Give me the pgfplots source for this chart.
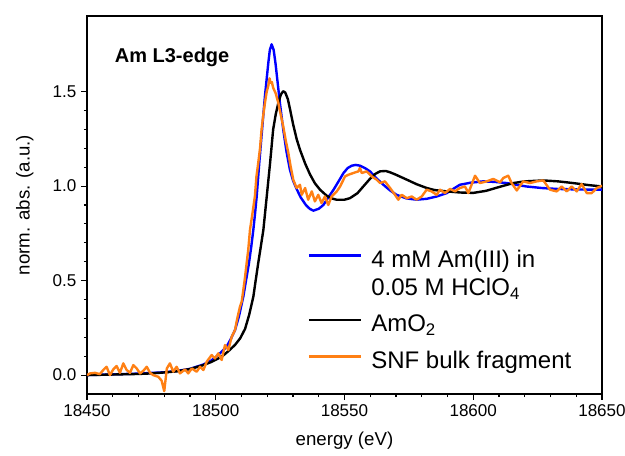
\documentclass[border=0pt]{standalone}
\usepackage{pgfplots}
\pgfplotsset{compat=1.18}
\usepackage{fontspec}
\setmainfont{Liberation Sans}
\definecolor{amblue}{RGB}{0,0,255}
\definecolor{snforange}{RGB}{255,128,20}
% legend rows of fixed size; shift text and line of a row together
\newcommand{\legtext}[2]{\raisebox{#1}[19pt][6.25pt]{\hspace{5pt}#2}}
\pgfplotsset{
  legline/.style={legend image code/.code={\draw[##1] (0pt,#1) -- (39pt,#1);}},
}
\begin{document}
\begin{tikzpicture}
\begin{axis}[
  scale only axis,
  width=386.25pt, height=283.5pt,
  xmin=18450, xmax=18650, ymin=-0.1, ymax=1.9,
  xtick={18450,18500,18550,18600,18650},
  ytick={0,0.5,1,1.5},
  minor x tick num=4, minor y tick num=4,
  scaled x ticks=false,
  tick pos=left, tick align=outside,
  major tick length=4.5pt, minor tick length=2.4pt,
  every tick/.style={black, line width=0.8pt},
  axis line style={line width=0.9pt},
  /pgf/number format/assume math mode=true,
  x tick label style={/pgf/number format/.cd, set thousands separator={}},
  y tick label style={/pgf/number format/.cd, fixed, fixed zerofill, precision=1},
  ticklabel style={font=\fontsize{12.8}{15}\selectfont},
  xlabel={energy (eV)}, ylabel={norm. abs. (a.u.)},
  label style={font=\fontsize{14}{16}\selectfont},
  xlabel style={at={(axis description cs:0.5,-0.124)}, anchor=center},
  ylabel style={at={(axis description cs:-0.121,0.5)}, anchor=center},
  legend cell align=left,
  legend style={at={(axis description cs:0.42,0.41)}, anchor=north west,
    draw=none, fill=none, font=\fontsize{18}{20.5}\selectfont,
    row sep=0pt, nodes={inner ysep=0pt}},
  legline=0pt,
  every axis plot/.append style={line width=1.8pt, line join=round},
]
\addplot[amblue] coordinates {
(18450,0.000) (18460,0.004) (18470,0.008) (18480,0.015) (18485,0.022) (18490,0.033)
(18495,0.055) (18498,0.075) (18500,0.095) (18502,0.12) (18504.2,0.15) (18506,0.195)
(18507.5,0.239) (18509,0.31) (18510.7,0.415) (18512,0.52) (18512.9,0.592) (18513.8,0.68)
(18514.6,0.769) (18515.3,0.86) (18515.9,0.945) (18516.9,1.122) (18518,1.30) (18519.1,1.476)
(18520.4,1.65) (18521,1.72) (18521.7,1.75) (18522.5,1.72) (18523.2,1.65) (18523.9,1.564)
(18525,1.43) (18526.2,1.30) (18527.5,1.18) (18528.8,1.087) (18530,1.03) (18531.4,0.985)
(18533,0.94) (18535,0.90) (18536.5,0.88) (18537.9,0.87) (18540,0.88) (18541.8,0.90)
(18543.7,0.94) (18545.7,0.98) (18547.7,1.025) (18549.6,1.069) (18551.2,1.095) (18552.8,1.108)
(18554.4,1.112) (18556,1.108) (18558,1.095) (18559.9,1.078) (18562.5,1.04) (18565.1,1.007)
(18567.6,0.978) (18570.2,0.954) (18574,0.935) (18578,0.928) (18582,0.933) (18585.8,0.945)
(18589.7,0.963) (18592.2,0.985) (18594.8,1.007) (18599,1.018) (18603.9,1.025) (18608.5,1.022)
(18613,1.016) (18617,1.006) (18620.7,0.998) (18626.5,0.99) (18632.4,0.985) (18641,0.982)
(18650,0.981)
};
\addlegendentry{\legtext{0pt}{4 mM Am(III) in}}
\addlegendimage{empty legend}
\addlegendentry{\legtext{-0.75pt}{0.05 M HClO\textsubscript{4}}}
\addplot[black, legline=-7.5pt] coordinates {
(18450,0.000) (18460,0.003) (18470,0.006) (18475,0.009) (18480,0.014) (18485,0.02)
(18490,0.032) (18495,0.052) (18498,0.068) (18501,0.088) (18503,0.105) (18505,0.128)
(18507.5,0.16) (18509.5,0.195) (18511.4,0.245) (18513,0.32) (18514.6,0.415) (18515.5,0.50)
(18516.5,0.593) (18517.5,0.68) (18518.5,0.769) (18519.8,0.945) (18521.1,1.122) (18522.3,1.30)
(18523.3,1.38) (18524.3,1.44) (18525.3,1.485) (18526.2,1.502) (18527,1.495) (18528,1.46)
(18528.8,1.41) (18530,1.33) (18531.4,1.25) (18532.7,1.193) (18534.7,1.12) (18536.6,1.062)
(18538.5,1.015) (18540.5,0.981) (18543,0.95) (18545,0.935) (18546.9,0.928) (18550,0.928)
(18552.1,0.936) (18555,0.962) (18557.3,0.998) (18560,1.04) (18562,1.065) (18563.8,1.078)
(18566,1.08) (18567.7,1.073) (18570,1.06) (18574.2,1.034) (18578,1.01) (18581.9,0.99)
(18585,0.979) (18589.7,0.972) (18595,0.966) (18600,0.964) (18605,0.975) (18610,0.995)
(18615.5,1.016) (18620,1.025) (18627.2,1.03) (18633,1.025) (18638.8,1.016) (18645,1.005)
(18650,0.998)
};
\addlegendentry{\legtext{-7.5pt}{AmO\textsubscript{2}}}
\addplot[snforange, legline=-14.25pt] coordinates {
(18450,0.0) (18451.2,0.009) (18453.1,0.012) (18455,0.005) (18456.3,0.027) (18457.6,0.044)
(18458.9,0.0) (18460.2,0.03) (18461.5,0.048) (18462.8,0.012) (18464.1,0.062) (18465.4,0.027)
(18466.7,0.012) (18468,0.053) (18469.3,0.035) (18470.6,0.009) (18471.9,0.023) (18473.2,0.044)
(18474.5,0.012) (18475.7,0.0) (18477.7,-0.009) (18479,-0.03) (18480,-0.085) (18481,0.035)
(18482.2,0.062) (18483.5,0.018) (18484.8,0.044) (18486.1,0.009) (18488.1,0.03) (18489.3,0.009)
(18490.7,0.035) (18492.6,0.018) (18493.9,0.044) (18495.2,0.027) (18496.5,0.071) (18498.4,0.106)
(18499.7,0.088) (18501,0.115) (18502.3,0.08) (18503.6,0.159) (18504.9,0.133) (18506.2,0.203)
(18507.5,0.239) (18508.2,0.29) (18509.4,0.362) (18510.1,0.39) (18510.7,0.45) (18511.3,0.51)
(18512,0.592) (18512.6,0.66) (18513.3,0.769) (18514.2,0.85) (18515.2,0.945) (18515.8,1.05)
(18516.5,1.122) (18517.2,1.2) (18517.8,1.30) (18518.5,1.38) (18519.1,1.44) (18519.8,1.5)
(18520.4,1.53) (18520.9,1.57) (18521.3,1.547) (18521.8,1.55) (18522.3,1.52) (18523.3,1.49)
(18524.3,1.44) (18525.2,1.38) (18526.2,1.317) (18527.2,1.24) (18528.2,1.175) (18529,1.11)
(18530.1,1.034) (18531.4,0.99) (18532.7,1.007) (18533.4,0.954) (18534.7,0.99) (18535.9,0.928)
(18537.3,0.972) (18538.5,0.919) (18539.8,0.954) (18541.1,0.91) (18542.4,0.945) (18543.7,0.90)
(18545,0.945) (18547,0.972) (18548.3,0.998) (18550.2,1.051) (18551.5,1.06) (18553.4,1.069)
(18555.4,1.078) (18556,1.096) (18556.7,1.069) (18558.6,1.078) (18560.6,1.051) (18562.5,1.034)
(18563.8,1.016) (18565.7,1.025) (18567.7,0.99) (18569.6,0.954) (18570.9,0.928) (18572.2,0.954)
(18574.2,0.936) (18576.1,0.945) (18578,0.928) (18580,0.945) (18581.9,0.981) (18583.8,0.972)
(18585.8,0.954) (18587.1,0.981) (18589,0.963) (18591,0.985) (18592.9,0.972) (18594.8,0.99)
(18596.8,0.998) (18598.1,0.963) (18600.7,1.055) (18602.6,1.016) (18605.2,1.025) (18607.8,1.038)
(18610.4,1.02) (18611.7,1.043) (18613.6,1.055) (18614.9,1.016) (18616.9,0.977) (18619.4,1.025)
(18622,1.016) (18624.6,1.025) (18627.2,1.03) (18629.8,0.981) (18632.4,0.972) (18634.3,0.998)
(18636.3,0.972) (18638.2,0.998) (18640.2,0.972) (18642.1,1.011) (18644.1,0.963) (18646,0.963)
(18648,0.99) (18650,1.002)
};
\addlegendentry{\legtext{-14.25pt}{SNF bulk fragment}}
\node[anchor=west, font=\bfseries\fontsize{15}{18}\selectfont] at (rel axis cs:0.045,0.891) {Am L3-edge};
\end{axis}
\pgfresetboundingbox
\useasboundingbox ([shift={(-65.25pt,-46.5pt)}]current axis.south west) rectangle ([shift={(17.25pt,12pt)}]current axis.north east);
\end{tikzpicture}
\end{document}
